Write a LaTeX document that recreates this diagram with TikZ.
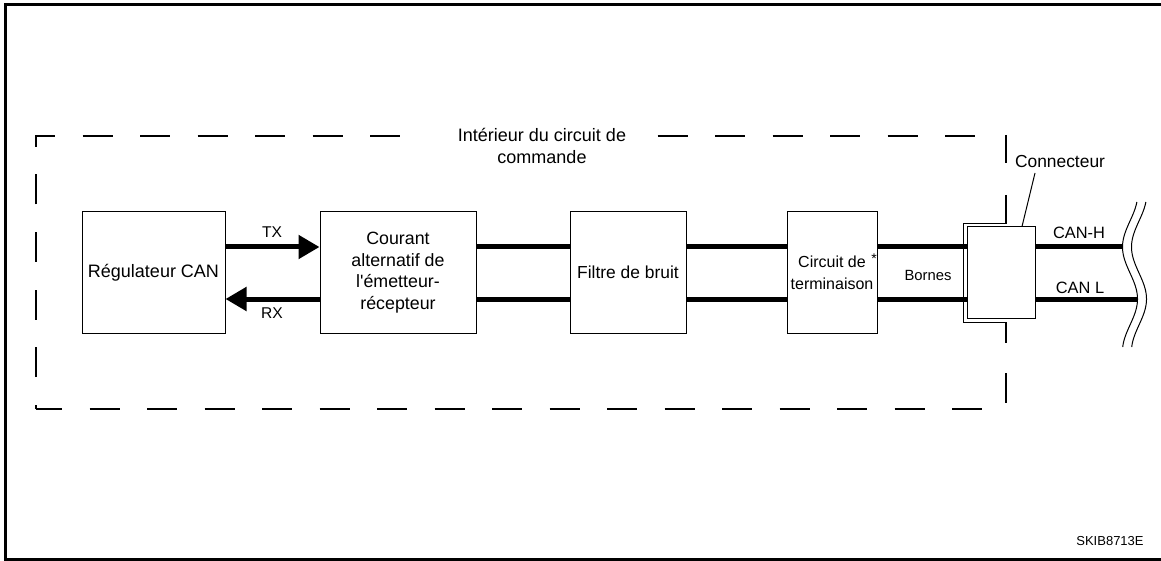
\documentclass[tikz,border=0pt]{standalone}
\usepackage{fontspec}
\setmainfont{Liberation Sans}
\usetikzlibrary{arrows.meta,calc}
\begin{document}
\begin{tikzpicture}[x=0.5pt,y=-0.5pt,
  box/.style={draw,line width=0.5pt,inner sep=0pt,align=center,minimum height=60.5pt},
  bus/.style={line width=2.5pt},
  thin/.style={line width=0.5pt},
  dsh/.style={line width=0.6pt,dash pattern=on 15pt off 13.75pt},
  lbl/.style={inner sep=0pt,align=center},
  tip/.style={-{Triangle[length=10.5pt,width=11.5pt]}}]
\useasboundingbox (0,0) rectangle (1161,561);
% outer frame (no right edge)
\draw[line width=1.5pt] (1161,4.5) -- (5,4.5) -- (5,559.5) -- (1161,559.5);

% dashed boundary
\draw[dsh,dash phase=12.75pt] (36,409) -- (36,136) -- (402,136);
\draw[dsh,dash phase=2pt] (36,409) -- (985,409);
\draw[dsh] (657.5,136) -- (978,136);
\draw[line width=0.6pt] (1006,135) -- (1006,163) (1006,195) -- (1006,224)
  (1006,322) -- (1006,343) (1006,373) -- (1006,403);
\node[lbl,font=\fontsize{9}{11}\selectfont] (title) at (542,146) {Intérieur du circuit de\\commande};

% boxes
\node[box,minimum width=71.5pt,font=\fontsize{9}{11}\selectfont] (reg) at (153.5,272.5) {Régulateur CAN};
\node[box,minimum width=78pt,font=\fontsize{8.9}{10.85}\selectfont] (cour) at (398,272.5) {Courant\\alternatif de\\l\textquotesingle émetteur-\\récepteur};
\node[box,minimum width=58pt,font=\fontsize{8.7}{10.8}\selectfont] (filt) at (628,272.5) {Filtre de bruit};
\node[box,minimum width=45pt,font=\fontsize{8}{10.8}\selectfont] (circ) at (832,272.5) {Circuit de\\terminaison};
\node[lbl,font=\fontsize{7}{8}\selectfont] (star) at (874,259) {*};

% connector
\draw[thin] (1006,224) -- (963,224) -- (963,322) -- (1006,322);
\node[draw,thin,fill=white,inner sep=0pt,minimum width=34pt,minimum height=45.5pt] (conn) at (1001,272.5) {};
\node[lbl,font=\fontsize{8.7}{10}\selectfont] (conlbl) at (1060,162) {Connecteur};
\coordinate (ldrA) at (1035,173);
\coordinate (ldrB) at (1022,0);
\draw[thin] (ldrA) -- (conn.north -| ldrB);

% signal levels
\coordinate (hy) at (0,247);
\coordinate (ly) at (0,299);

% TX / RX
\draw[bus,tip] (reg.east |- hy) -- (cour.west |- hy);
\draw[bus,tip] (cour.west |- ly) -- (reg.east |- ly);
\node[lbl,font=\fontsize{7.8}{9}\selectfont] (tx) at (272,232) {TX};
\node[lbl,font=\fontsize{7.8}{9}\selectfont] (rx) at (272,313) {RX};

% buses
\draw[bus] (cour.east |- hy) -- (filt.west |- hy);
\draw[bus] (cour.east |- ly) -- (filt.west |- ly);
\draw[bus] (filt.east |- hy) -- (circ.west |- hy);
\draw[bus] (filt.east |- ly) -- (circ.west |- ly);
\draw[bus] (circ.east |- hy) -- (conn.west |- hy);
\draw[bus] (circ.east |- ly) -- (conn.west |- ly);
\node[lbl,font=\fontsize{7.4}{9}\selectfont] (bornes) at (928,275) {Bornes};

\coordinate (wh) at (1123,247);
\coordinate (wl) at (1137,299);
\draw[bus] (conn.east |- hy) -- (wh);
\draw[bus] (conn.east |- ly) -- (wl);
\node[lbl,font=\fontsize{8.2}{9}\selectfont] (canh) at (1079,233) {CAN-H};
\node[lbl,font=\fontsize{8.2}{9}\selectfont] (canl) at (1080,288) {CAN L};

% break lines
\draw[thin] plot[domain=202:347,samples=80,smooth,variable=\t] ({1130+7.5*cos((\t-299)/104*360)},\t);
\draw[thin] plot[domain=202:347,samples=80,smooth,variable=\t] ({1139+7.5*cos((\t-299)/104*360)},\t);

\node[lbl,font=\fontsize{6.5}{8}\selectfont] (code) at (1110,541) {SKIB8713E};
\end{tikzpicture}
\end{document}
